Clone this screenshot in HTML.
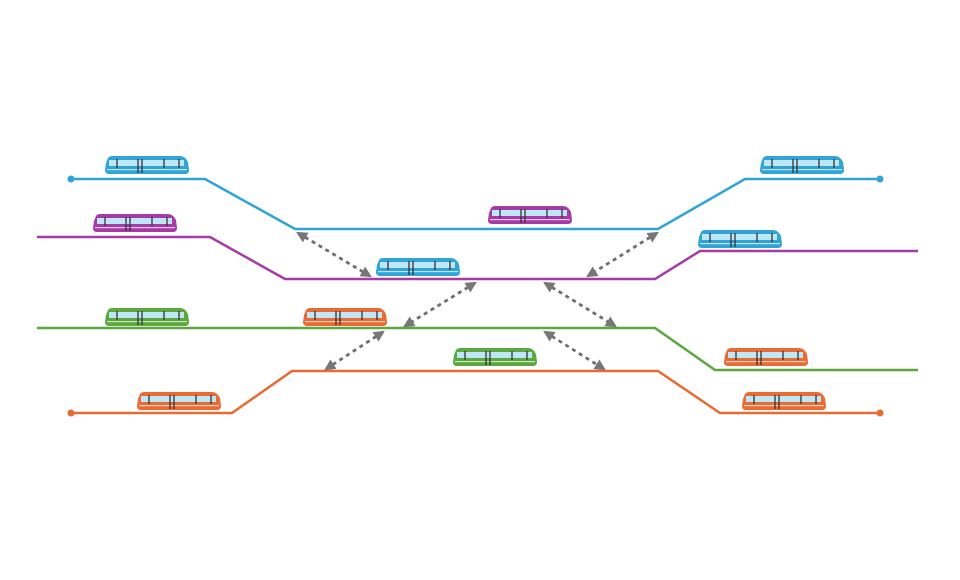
<!DOCTYPE html>
<html><head><meta charset="utf-8"><style>html,body{margin:0;padding:0;background:#fff}svg{display:block}</style></head>
<body>
<svg width="960" height="580" viewBox="0 0 960 580" xmlns="http://www.w3.org/2000/svg">
<defs>
<symbol id="tr" viewBox="0 0 86 20" width="86" height="20">
<path d="M4 3 Q5 1 9 1 H76 Q81 1 84 7 L85 15 Q85 19 81 19 H5 Q1 19 1 15 L2 8 Z" fill="currentColor"/>
<rect x="5" y="5" width="75" height="6" fill="#bfe6f7"/>
<rect x="3" y="14" width="80" height="1.2" fill="#fff" opacity="0.7"/>
<g stroke="#333" stroke-width="1.3">
<line x1="13" y1="4" x2="13" y2="13"/><line x1="34" y1="4" x2="34" y2="18"/><line x1="38" y1="4" x2="38" y2="18"/>
<line x1="60" y1="4" x2="60" y2="13"/><line x1="75" y1="4" x2="75" y2="13"/>
</g>
</symbol>
<marker id="ah" viewBox="0 0 10 10" refX="8" refY="5" markerWidth="4" markerHeight="4" orient="auto-start-reverse"><path d="M0 0 L10 5 L0 10 Z" fill="#777"/></marker>
</defs>
<g fill="none" stroke-width="2.5">
<polyline stroke="#2fa4d6" points="71,179 205,179 295,229 658,229 745,179 880,179"/>
<polyline stroke="#a63aa6" points="37,237 210,237 285,279 655,279 700,251 918,251"/>
<polyline stroke="#5aa83e" points="37,328 655,328 715,370 918,370"/>
<polyline stroke="#ea6a34" points="71,413 232,413 292,371 658,371 720,413 880,413"/>
</g>
<circle cx="71" cy="179" r="3.5" fill="#2fa4d6"/><circle cx="880" cy="179" r="3.5" fill="#2fa4d6"/>
<circle cx="71" cy="413" r="3.5" fill="#ea6a34"/><circle cx="880" cy="413" r="3.5" fill="#ea6a34"/>
<g stroke="#6f6f6f" stroke-width="2.8" stroke-dasharray="4 4" marker-start="url(#ah)" marker-end="url(#ah)">
<line x1="298" y1="233" x2="370" y2="276"/>
<line x1="657" y1="233" x2="588" y2="276"/>
<line x1="475" y1="283" x2="405" y2="326"/>
<line x1="545" y1="283" x2="615" y2="326"/>
<line x1="383" y1="332" x2="326" y2="369"/>
<line x1="545" y1="332" x2="604" y2="369"/>
</g>
<use href="#tr" x="104" y="155" style="color:#2fa4d6"/>
<use href="#tr" x="92" y="213" style="color:#a63aa6"/>
<use href="#tr" x="104" y="307" style="color:#5aa83e"/>
<use href="#tr" x="136" y="391" style="color:#ea6a34"/>
<use href="#tr" x="375" y="257" style="color:#2fa4d6"/>
<use href="#tr" x="487" y="205" style="color:#a63aa6"/>
<use href="#tr" x="302" y="307" style="color:#ea6a34"/>
<use href="#tr" x="452" y="347" style="color:#5aa83e"/>
<use href="#tr" x="759" y="155" style="color:#2fa4d6"/>
<use href="#tr" x="697" y="229" style="color:#2fa4d6"/>
<use href="#tr" x="723" y="347" style="color:#ea6a34"/>
<use href="#tr" x="741" y="391" style="color:#ea6a34"/>
</svg>
</body></html>
